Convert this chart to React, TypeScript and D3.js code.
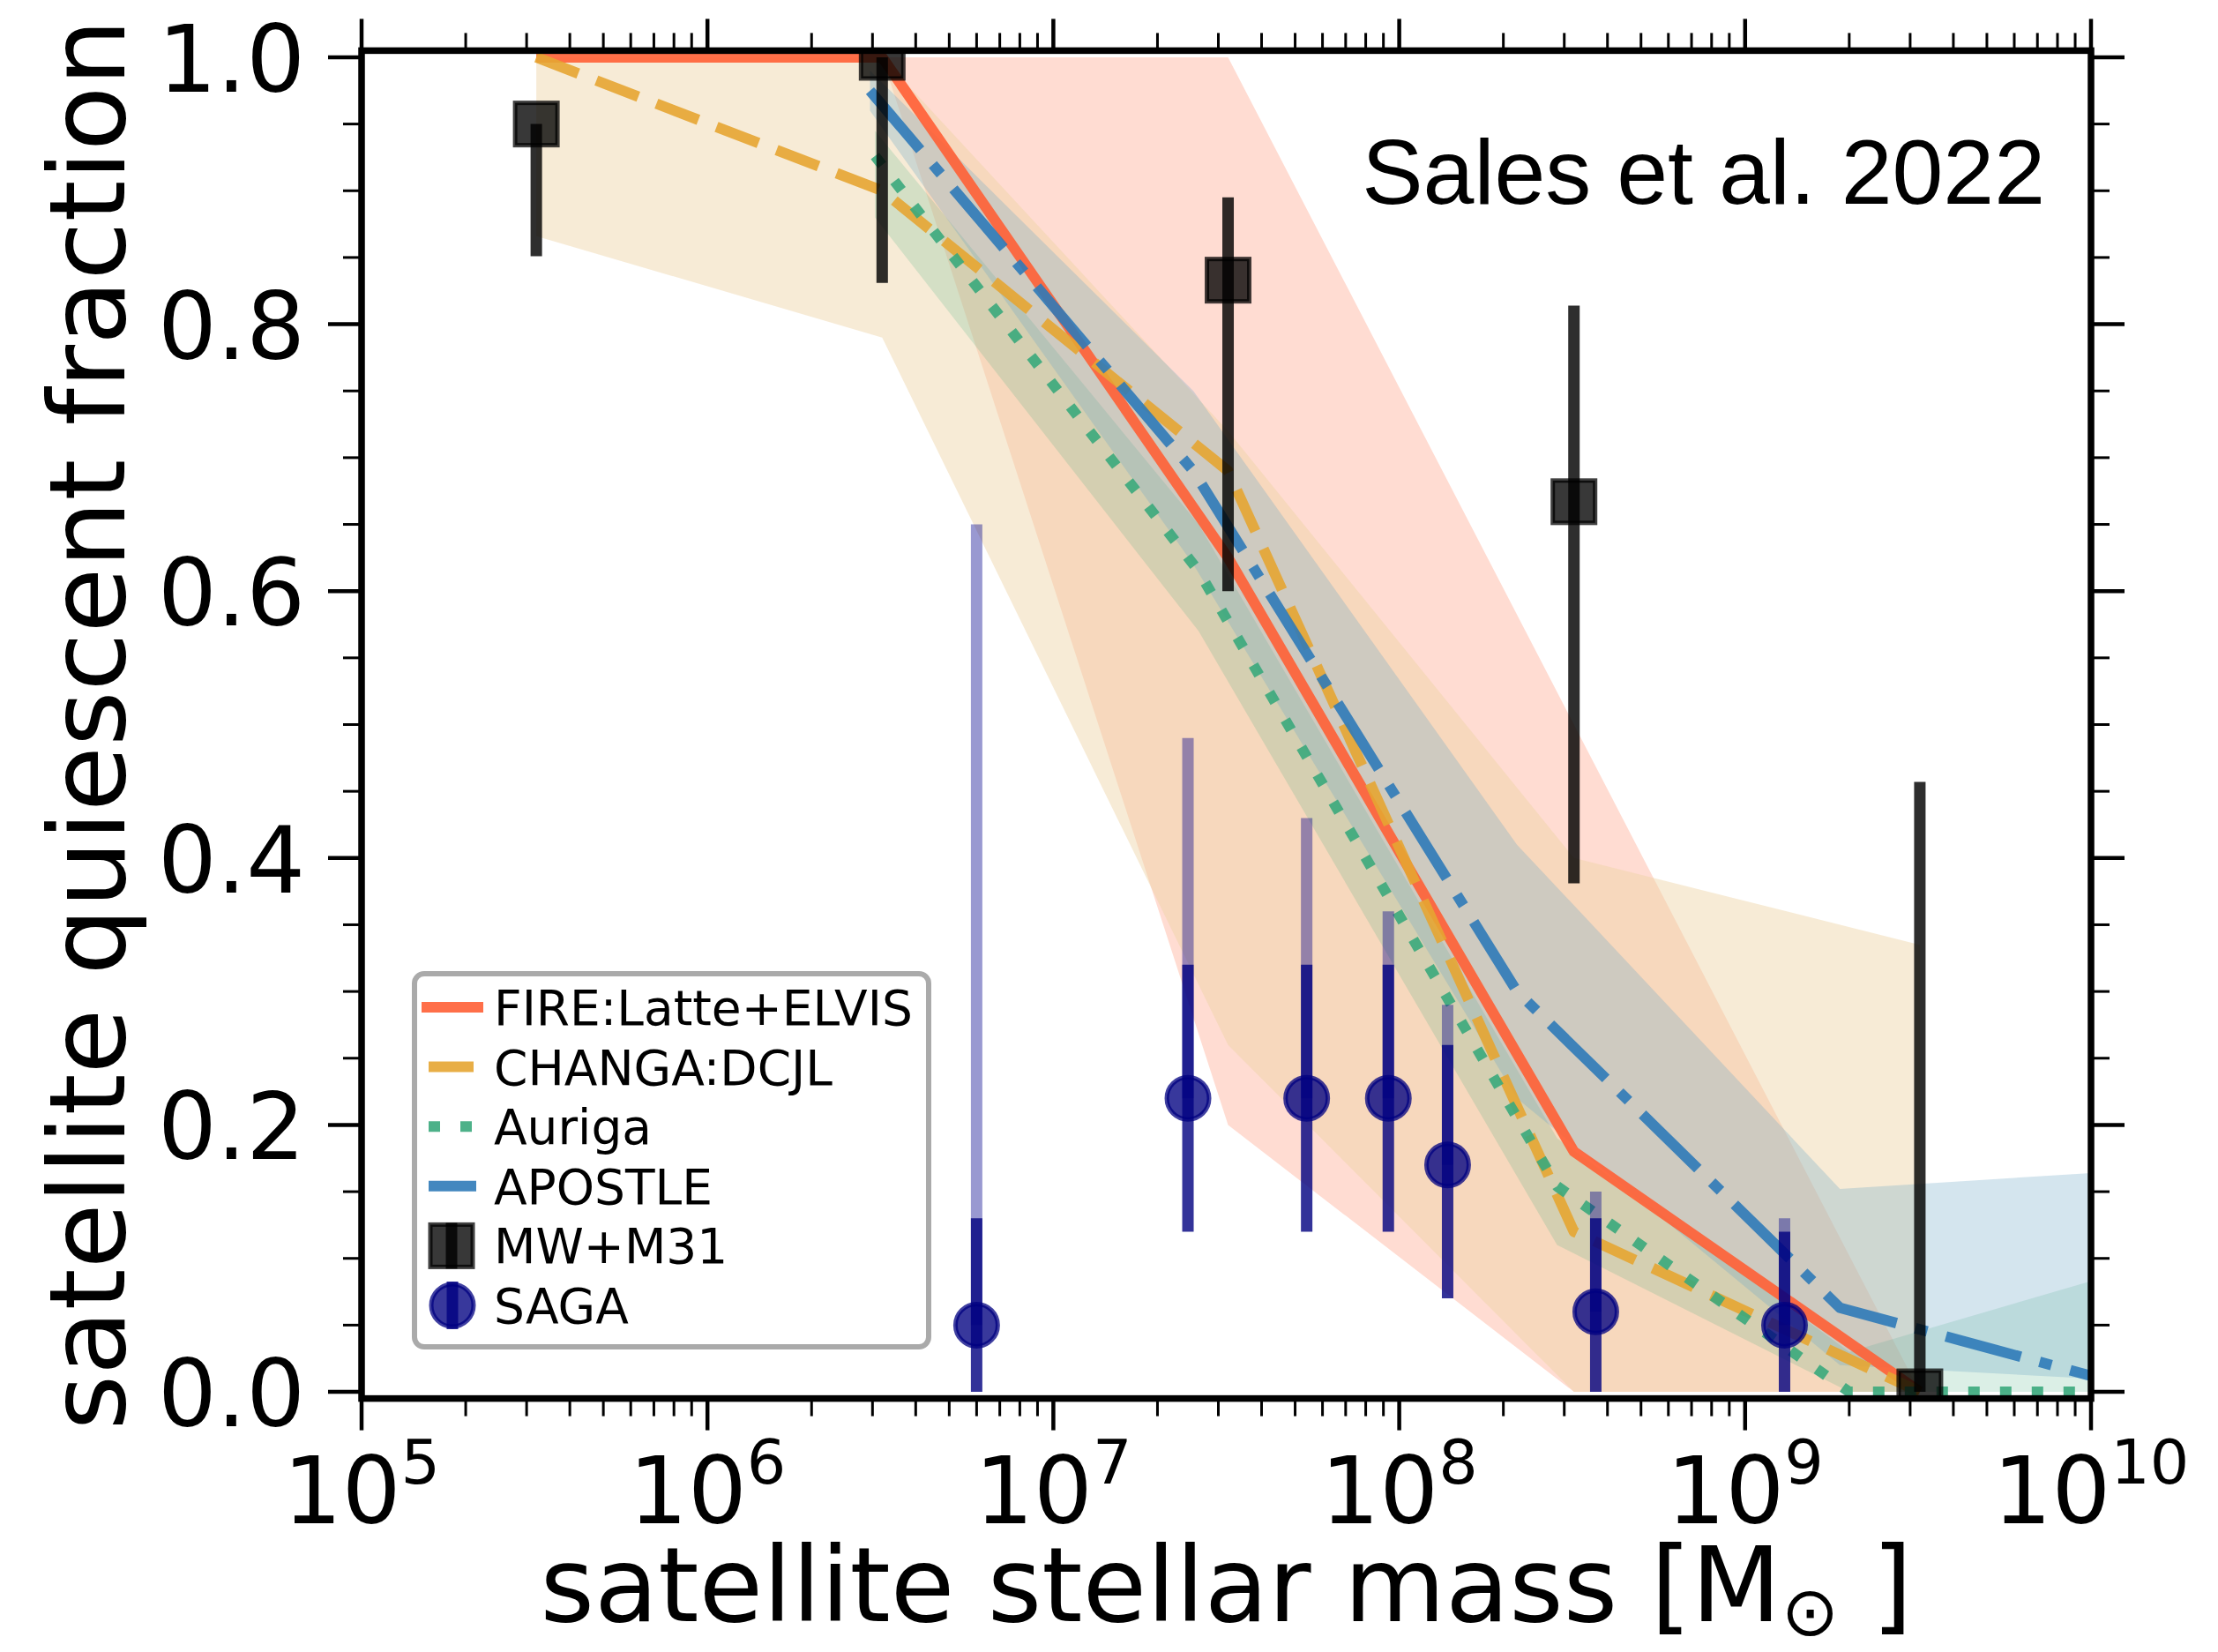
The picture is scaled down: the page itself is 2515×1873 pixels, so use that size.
import React from 'react';
import * as d3 from 'd3';

// simulation bins (FIRE and CHANGA share the same mass bins)
const simMass = [3.2e5, 3.2e6, 3.2e7, 3.2e8, 3.2e9];
const fireMedian = [1.0, 1.0, 0.625, 0.18, 0.0];
const fireLow = [1.0, 1.0, 0.2, 0.0, 0.0];
const fireHigh = [1.0, 1.0, 1.0, 0.5, 0.0];
const changaMedian = [1.0, 0.9, 0.69, 0.12, 0.0];
const changaLow = [0.866, 0.79, 0.26, 0.0, 0.0];
const changaHigh = [1.0, 1.0, 0.72, 0.4, 0.335];

const aurigaMass = [3.05e6, 2.63e7, 2.86e8, 2.0e9, 1e10];
const aurigaMedian = [0.926, 0.615, 0.154, 0.0, 0.0];
const aurigaLow = [0.88, 0.57, 0.11, 0.0, 0.0];
const aurigaHigh = [0.945, 0.65, 0.19, 0.03, 0.083];

const apostleMass = [2.95e6, 2.54e7, 2.19e8, 1.88e9, 1e10];
const apostleMedian = [0.975, 0.69, 0.3, 0.063, 0.012];
const apostleLow = [0.96, 0.62, 0.22, 0.02, 0.01];
const apostleHigh = [0.99, 0.75, 0.41, 0.152, 0.164];

// observations
const mwMass = [3.2e5, 3.2e6, 3.2e7, 3.2e8, 3.2e9];
const mwFrac = [0.95, 1.0, 0.833, 0.667, 0.0];
const mwLow = [0.851, 0.831, 0.6, 0.381, 0.0];
const mwHigh = [0.95, 1.0, 0.895, 0.814, 0.457];

const sagaMass = [6.0e6, 2.45e7, 5.4e7, 9.3e7, 1.38e8, 3.7e8, 1.3e9];
const sagaFrac = [0.05, 0.22, 0.22, 0.22, 0.17, 0.06, 0.05];
const sagaLow = [0.0, 0.12, 0.12, 0.12, 0.07, 0.0, 0.0];
const sagaHigh = [0.13, 0.32, 0.32, 0.32, 0.26, 0.13, 0.12];
const sagaHighAll = [0.65, 0.49, 0.43, 0.36, 0.29, 0.15, 0.13];

const xDomain = [1e5, 1e10];
const yDomain = [-0.005, 1.005];

const legendLabels = ['FIRE:Latte+ELVIS', 'CHANGA:DCJL', 'Auriga', 'APOSTLE', 'MW+M31', 'SAGA'];

const font = '"DejaVu Sans", sans-serif';

const sims = [
  { name: 'FIRE', mass: simMass, med: fireMedian, lo: fireLow, hi: fireHigh, color: '#ff5f35', band: '#ff8c69', bandOpacity: 0.3, dash: null },
  { name: 'CHANGA', mass: simMass, med: changaMedian, lo: changaLow, hi: changaHigh, color: '#e6a532', band: '#eed3a3', bandOpacity: 0.45, dash: '51,22' },
  { name: 'Auriga', mass: aurigaMass, med: aurigaMedian, lo: aurigaLow, hi: aurigaHigh, color: '#3aa97c', band: '#4daf80', bandOpacity: 0.2, dash: '13,23' },
  { name: 'APOSTLE', mass: apostleMass, med: apostleMedian, lo: apostleLow, hi: apostleHigh, color: '#2f7ab8', band: '#6fa8c8', bandOpacity: 0.3, dash: '88,22,14,22' },
];

export default function App() {
  const x = d3.scaleLog().domain(xDomain).range([410, 2371]);
  const y = d3.scaleLinear().domain(yDomain).range([1585.6, 57.4]);
  const [x0, x1] = x.range();
  const [yb, yt] = y.range();

  const area = d3.area<any>().x(d => x(d.m)).y0(d => y(d.lo)).y1(d => y(d.hi));
  const line = d3.line<any>().x(d => x(d.m)).y(d => y(d.v));

  const xTicks = x.ticks();
  const isMajor = (v: number) => Math.abs(Math.log10(v) - Math.round(Math.log10(v))) < 1e-6;
  const yMajor = y.ticks(5);
  const yMinor = y.ticks(20).filter(v => !yMajor.some(m => Math.abs(m - v) < 1e-9));

  const rowY = (i: number) => 1142 + i * 67.6;

  return (
    <div style={{ position: 'absolute', left: 0, top: 0 }}>
      <svg width={2515} height={1873} style={{ display: 'block', background: '#fff' }}>
        <defs>
          <clipPath id="plot">
            <rect x={x0} y={yt} width={x1 - x0} height={yb - yt} />
          </clipPath>
        </defs>
        <g clipPath="url(#plot)">
          {sims.map(s => (
            <path key={'b' + s.name}
              d={area(s.mass.map((m, i) => ({ m, lo: s.lo[i], hi: s.hi[i] }))) || ''}
              fill={s.band} fillOpacity={s.bandOpacity} stroke="none" />
          ))}
          {sims.map(s => (
            <path key={'l' + s.name}
              d={line(s.mass.map((m, i) => ({ m, v: s.med[i] }))) || ''}
              fill="none" stroke={s.color} strokeOpacity={0.9} strokeWidth={12}
              strokeDasharray={s.dash || undefined} strokeLinejoin="round" />
          ))}
          {mwMass.map((m, i) => (
            <g key={'mw' + i}>
              <line x1={x(m)} x2={x(m)} y1={y(mwLow[i])} y2={y(mwHigh[i])}
                stroke="#000" strokeOpacity={0.82} strokeWidth={13} />
              <rect x={x(m) - 24} y={y(mwFrac[i]) - 24} width={48} height={48}
                fill="#000" fillOpacity={0.78} stroke="#000" strokeOpacity={0.75} strokeWidth={5} />
            </g>
          ))}
          {sagaMass.map((m, i) => (
            <g key={'saga' + i}>
              <line x1={x(m)} x2={x(m)} y1={y(sagaFrac[i])} y2={y(sagaHighAll[i])}
                stroke="#00008b" strokeOpacity={0.4} strokeWidth={13} />
              <line x1={x(m)} x2={x(m)} y1={y(sagaLow[i])} y2={y(sagaHigh[i])}
                stroke="#000080" strokeOpacity={0.8} strokeWidth={13} />
              <circle cx={x(m)} cy={y(sagaFrac[i])} r={24}
                fill="#000080" fillOpacity={0.78} stroke="#000080" strokeOpacity={0.75} strokeWidth={5} />
            </g>
          ))}
        </g>

        {/* ticks on all four sides, pointing out */}
        <g stroke="#000">
          {xTicks.map((v, i) => {
            const len = isMajor(v) ? 36 : 20;
            const w = isMajor(v) ? 4.5 : 3;
            return (
              <g key={'xt' + i} strokeWidth={w}>
                <line x1={x(v)} x2={x(v)} y1={yb} y2={yb + len} />
                <line x1={x(v)} x2={x(v)} y1={yt} y2={yt - len} />
              </g>
            );
          })}
          {yMajor.map((v, i) => (
            <g key={'yt' + i} strokeWidth={4.5}>
              <line x1={x0} x2={x0 - 38} y1={y(v)} y2={y(v)} />
              <line x1={x1} x2={x1 + 38} y1={y(v)} y2={y(v)} />
            </g>
          ))}
          {yMinor.map((v, i) => (
            <g key={'ym' + i} strokeWidth={3}>
              <line x1={x0} x2={x0 - 21} y1={y(v)} y2={y(v)} />
              <line x1={x1} x2={x1 + 21} y1={y(v)} y2={y(v)} />
            </g>
          ))}
        </g>
        <rect x={x0} y={yt} width={x1 - x0} height={yb - yt} fill="none" stroke="#000" strokeWidth={7.5} />

        {/* tick labels */}
        <g fontFamily={font} fill="#000">
          {yMajor.map((v, i) => (
            <text key={'yl' + i} x={346} y={y(v) + 39} fontSize={105} textAnchor="end">
              {d3.format('.1f')(v)}
            </text>
          ))}
          {xTicks.filter(isMajor).map((v, i) => (
            <text key={'xl' + i} x={x(v)} y={1727} fontSize={105} textAnchor="middle">
              10<tspan fontSize={70} dy={-45}>{Math.round(Math.log10(v))}</tspan>
            </text>
          ))}
          <text x={141} y={(yt + yb) / 2} fontSize={120} textAnchor="middle"
            transform={`rotate(-90 141 ${(yt + yb) / 2})`}>satellite quiescent fraction</text>
          <text x={(x0 + x1) / 2} y={1838} fontSize={118} textAnchor="middle">
            satellite stellar mass [M<tspan fontSize={78} dy={16}>{'\u2299'}</tspan><tspan dy={-16}>{'\u00a0]'}</tspan>
          </text>
          <text x={2319} y={231} fontSize={104} textAnchor="end" fontFamily='"Liberation Sans", Arial, sans-serif'>
            Sales et al. 2022
          </text>
        </g>

        {/* legend */}
        <g>
          <rect x={470} y={1104} width={583} height={423} rx={11} fill="#fff" fillOpacity={0.85}
            stroke="#aaa" strokeWidth={6} />
          {sims.map((s, i) => (
            <line key={'lh' + i} x1={s.dash ? 486 : 478} x2={s.dash ? 540 : 548} y1={rowY(i)} y2={rowY(i)}
              stroke={s.color} strokeOpacity={0.9} strokeWidth={12} strokeDasharray={s.dash || undefined} />
          ))}
          <g>
            <line x1={512} x2={512} y1={rowY(4) - 26} y2={rowY(4) + 26} stroke="#000" strokeOpacity={0.82} strokeWidth={13} />
            <rect x={488} y={rowY(4) - 24} width={48} height={48} fill="#000" fillOpacity={0.78}
              stroke="#000" strokeOpacity={0.75} strokeWidth={5} />
          </g>
          <g>
            <line x1={513} x2={513} y1={rowY(5) - 27} y2={rowY(5) + 27} stroke="#000080" strokeOpacity={0.8} strokeWidth={13} />
            <circle cx={513} cy={rowY(5)} r={24} fill="#000080" fillOpacity={0.78}
              stroke="#000080" strokeOpacity={0.75} strokeWidth={5} />
          </g>
          {legendLabels.map((t, i) => (
            <text key={'lt' + i} x={560} y={rowY(i) + 20} fontSize={55} fontFamily={font} fill="#000">{t}</text>
          ))}
        </g>
      </svg>
    </div>
  );
}
